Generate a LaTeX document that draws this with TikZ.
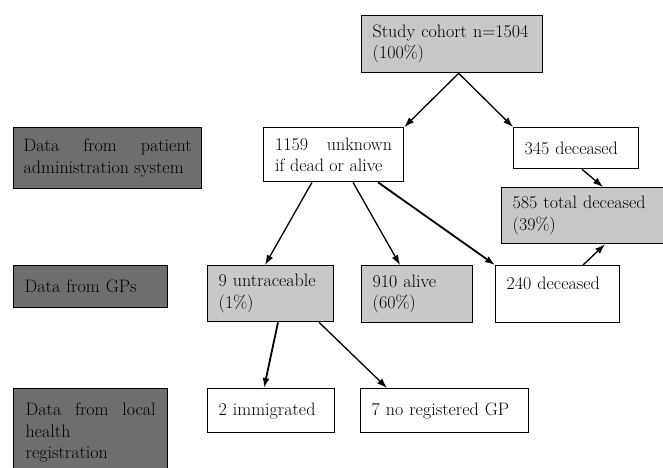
\documentclass[tikz,border=0pt]{standalone}
\usepackage{fontspec}
\usetikzlibrary{arrows.meta}
\definecolor{lgray}{HTML}{C8C8C8}
\definecolor{dgray}{HTML}{6E6E6E}
\begin{document}
\begin{tikzpicture}[x=1pt,y=-1pt,
  box/.style={draw=black, line width=1.3pt, anchor=north west, inner xsep=11pt, inner ysep=0pt,
    font=\fontsize{18}{21.5}\selectfont, align=left},
  lbox/.style={box, fill=dgray, align=justify},
  conn/.style={line width=1.3pt, -{Latex[length=10pt,width=7pt]}},
  thick conn/.style={conn, line width=1.8pt}]
\useasboundingbox (0,0) rectangle (663,467);
\tolerance=10000 \hbadness=10000 \hyphenpenalty=10000 \hfuzz=5pt
% left category labels
\node[lbox, minimum width=188pt, minimum height=61pt, inner xsep=10pt, text width=168pt] (lab1) at (13,127)
  {Data from patient\linebreak administration system};
\node[lbox, minimum width=154pt, minimum height=42pt, text width=132pt, align=left] (lab2) at (13,265)
  {Data from GPs};
\node[lbox, minimum width=154pt, minimum height=88pt, text width=130pt] (lab3) at (13,388)
  {Data from local\linebreak health\\ registration};
% flow boxes
\node[box, fill=lgray, minimum width=181pt, minimum height=57pt, text width=159pt] (study) at (361,15)
  {Study cohort n=1504\\ (100\%)};
\node[box, fill=white, minimum width=140pt, minimum height=54pt, text width=117pt, align=justify] (unk) at (263,127)
  {1159 unknown\linebreak if dead or alive};
\node[box, fill=white, minimum width=125pt, minimum height=41pt, text width=103pt] (dec345) at (513,127)
  {345 deceased};
\node[box, fill=lgray, minimum width=175pt, minimum height=56pt, text width=153pt] (tot585) at (501,187)
  {585 total deceased\\ (39\%)};
\node[box, fill=lgray, minimum width=126pt, minimum height=56pt, text width=104pt] (untr) at (207,265)
  {9 untraceable\\ (1\%)};
\node[box, fill=lgray, minimum width=111pt, minimum height=57pt, text width=89pt] (alive) at (361,265)
  {910 alive\\ (60\%)};
\node[box, fill=white, minimum width=124pt, minimum height=57pt, text width=102pt] (dec240) at (495,265)
  {240 deceased\\ \mbox{}};
\node[box, fill=white, minimum width=127pt, minimum height=44pt, text width=105pt] (immig) at (207,388)
  {2 immigrated};
\node[box, fill=white, minimum width=168pt, minimum height=44pt, text width=146pt] (noreg) at (360,388)
  {7 no registered GP};
% connectors
\draw[conn] ([xshift=6.5pt]study.south) -- (unk.north east);
\draw[conn] ([xshift=6.5pt]study.south) -- (dec345.north west);
\draw[conn] ([xshift=69pt]dec345.south west) -- ([xshift=102pt]tot585.north west);
\draw[conn] ([xshift=88pt]dec240.north west) -- ([xshift=104pt]tot585.south west);
\draw[conn] ([xshift=49pt]unk.south west) -- ([xshift=58pt]untr.north west);
\draw[conn] ([xshift=90pt]unk.south west) -- ([xshift=39pt]alive.north west);
\draw[thick conn] ([xshift=115pt]unk.south west) -- (dec240.north west);
\draw[thick conn] ([xshift=71pt]untr.south west) -- ([xshift=57pt]immig.north west);
\draw[conn] ([xshift=112pt]untr.south west) -- ([xshift=27pt]noreg.north west);
\end{tikzpicture}
\end{document}
